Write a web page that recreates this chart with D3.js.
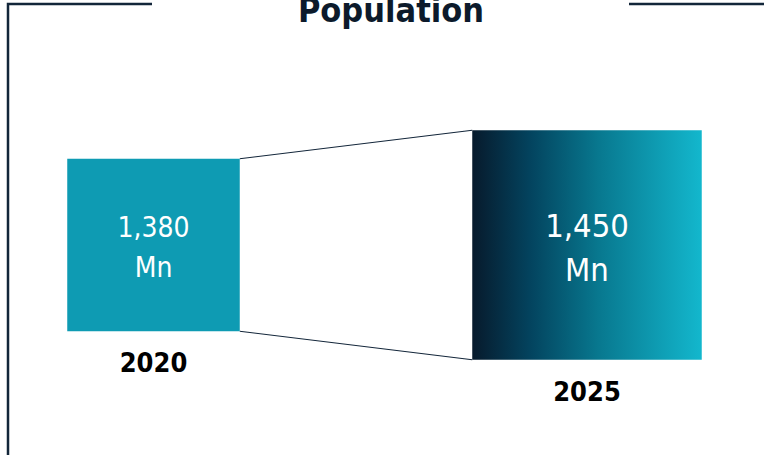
<!DOCTYPE html>
<html><head><meta charset="utf-8">
<script src="https://cdn.jsdelivr.net/npm/d3@7"></script>
<style>body{margin:0;background:#fff}svg{display:block}</style>
</head><body>
<svg id="c" width="764" height="455"></svg>
<script>
const title = "Population";
const years = ["2020", "2025"];
const values = [1380, 1450];
const unit = "Mn";

const W = 764, H = 455;
const svg = d3.select("#c");
const font = "'Liberation Sans Narrow','DejaVu Sans Condensed','Arial Narrow',sans-serif";

// frame
const frameColor = "#13263a";
svg.append("path").attr("d", `M8,${H} L8,4 L152,4`).attr("fill","none").attr("stroke",frameColor).attr("stroke-width",2.5);
svg.append("path").attr("d", `M629,4 L${W},4`).attr("fill","none").attr("stroke",frameColor).attr("stroke-width",2.5);

svg.append("text").attr("x", 391).attr("y", 22).attr("text-anchor","middle")
  .attr("font-family", font).attr("font-weight","bold").attr("font-size", 34)
  .attr("fill", "#0c1a2b").text(title);

// scales
const x = d3.scalePoint().domain(years).range([153.5, 587]);
const size = d3.scaleLinear().domain([values[0], values[1]]).range([172.5, 229.5]);
const cy = 245;
const fontSize = d3.scaleLinear().domain([values[0], values[1]]).range([28, 32.5]);

const defs = svg.append("defs");
const grad = defs.append("linearGradient").attr("id","g").attr("x1","0%").attr("x2","100%").attr("y1","0%").attr("y2","0%");
[["0%","#071a2c"],["25%","#03435e"],["55%","#08788f"],["100%","#13b7cd"]].forEach(([o,c]) =>
  grad.append("stop").attr("offset",o).attr("stop-color",c));

const data = years.map((y,i)=>({year:y, value:values[i]}));
const boxes = data.map(d => {
  const s = size(d.value);
  return {x0: x(d.year)-s/2, x1: x(d.year)+s/2, y0: cy - s/2, y1: cy + s/2, d};
});

// connectors
svg.append("line").attr("x1",boxes[0].x1).attr("y1",boxes[0].y0).attr("x2",boxes[1].x0).attr("y2",boxes[1].y0)
  .attr("stroke","#13263a").attr("stroke-width",1.2);
svg.append("line").attr("x1",boxes[0].x1).attr("y1",boxes[0].y1).attr("x2",boxes[1].x0).attr("y2",boxes[1].y1)
  .attr("stroke","#13263a").attr("stroke-width",1.2);

const g = svg.selectAll("g.box").data(boxes).join("g").attr("class","box");
g.append("rect").attr("x",b=>b.x0).attr("y",b=>b.y0).attr("width",b=>b.x1-b.x0).attr("height",b=>b.y1-b.y0)
  .attr("fill",(b,i)=> i===0 ? "#0e9bb3" : "url(#g)");
g.append("text").attr("x",b=>(b.x0+b.x1)/2).attr("y",237)
  .attr("text-anchor","middle").attr("fill","#fff").attr("font-family",font).attr("font-weight",500)
  .attr("font-size",b=>fontSize(b.d.value)).text(b=>d3.format(",")(b.d.value));
g.append("text").attr("x",b=>(b.x0+b.x1)/2).attr("y",(b,i)=> i===0 ? 277 : 281)
  .attr("text-anchor","middle").attr("fill","#fff").attr("font-family",font).attr("font-weight",500)
  .attr("font-size",b=>fontSize(b.d.value)).text(unit);
g.append("text").attr("x",b=>(b.x0+b.x1)/2).attr("y",b=>b.y1+41)
  .attr("text-anchor","middle").attr("fill","#000").attr("font-family",font).attr("font-weight","bold")
  .attr("font-size",27).text(b=>b.d.year);
</script>
</body></html>
